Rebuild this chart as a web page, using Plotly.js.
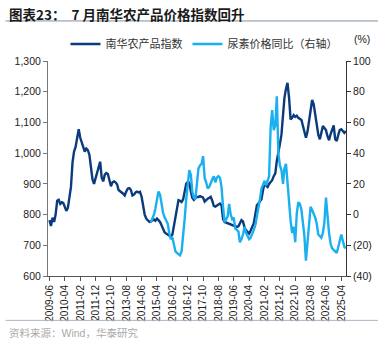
<!DOCTYPE html>
<html>
<head>
<meta charset="utf-8">
<script src="https://cdn.plot.ly/plotly-3.0.1.min.js"></script>
<style>
html,body{margin:0;padding:0;background:#fff;}
#chart{width:383px;height:348px;}
</style>
</head>
<body>
<div id="chart"></div>
<script>
// Monthly data, 2009-06 .. 2025-07
const startYear = 2009, startMonth = 6;
const nanhuaIndex = [
782,763,790,776,800,845,848,835,840,838,825,812,822,855,890,970,1005,1020,1050,1078,
1050,1035,1015,1005,1015,1010,995,950,915,900,918,940,960,972,920,908,930,935,932,905,
892,905,908,905,898,880,874,872,868,862,875,885,886,880,862,865,872,875,872,874,
858,825,800,787,780,776,778,782,784,780,787,782,776,765,750,742,738,735,733,728,
735,760,790,825,847,845,841,850,870,900,906,904,875,855,848,852,858,857,860,858,
855,842,848,852,855,858,845,828,826,830,832,836,830,785,776,774,771,770,767,765,
763,762,760,762,772,782,778,758,749,742,738,748,760,771,800,830,836,845,850,880,
901,895,890,900,905,912,925,934,975,1010,1030,1060,1140,1180,1210,1229,1180,1110,1115,1124,
1118,1122,1115,1110,1108,1090,1070,1050,1070,1108,1150,1173,1160,1124,1080,1060,1045,1065,1088,1082,
1075,1055,1042,1062,1075,1090,1045,1040,1060,1075,1078,1070,1066,1072
];
// Urea price YoY (%), 2014-12 .. 2025-07
const ureaStartOffset = 66;
const ureaYoY = [
-5,-3,0,4,10,15,13,7,1,-2,-4,-6,-12,-16,-15,-20,-24,-25,-26,-26.5,
-24,-15,-3,10,20,29,26,15,11,10,20,30,32,33,38,24,21,17,18,21,
23,25,21,24,25,24,18,5,-5,-3,-1,7,0,-3,-2,-9,-10,-11,-18,-16,
-13,-8,-12,-14,-16,-15,-13,-10,-7,-2,4,10,17,20,22,19,22,25,57,68,
55,58,77,40,32,29,20,30,33,20,6,-4,-12,-8,-18,1,8,7,3,-5,
-14,-30,-18,-5,5,3,1,-2,-6,-13,-14,-15,-12,-5,11,-1,-12,-19,-22,-23,
-24,-25,-21,-17,-13,-17,-21,-22
];
const tickLabels = ['2009-06','2010-04','2011-02','2011-12','2012-10','2013-08','2014-06','2015-04',
'2016-02','2016-12','2017-10','2018-08','2019-06','2020-04','2021-02','2021-12','2022-10','2023-08',
'2024-06','2025-04'];
const leftTicks = [600,700,800,900,1000,1100,1200,1300];
const rightTicks = [-40,-20,0,20,40,60,80,100];
const rightTickText = ['(40)','(20)','0','20','40','60','80','100'];
const seriesNames = ['南华农产品指数','尿素价格同比（右轴）'];

function monthDate(offset){
  const t = (startYear*12 + (startMonth-1)) + offset;
  const y = Math.floor(t/12), m = t%12 + 1;
  return y + '-' + String(m).padStart(2,'0') + '-01';
}
const dates = nanhuaIndex.map((_,i)=>monthDate(i));
const ureaDates = ureaYoY.map((_,i)=>monthDate(i+ureaStartOffset));

const DARK = '#0b3a7e', LIGHT = '#1ab0ef';
const numFont = 'Liberation Sans, Arial, sans-serif';
const cjkFont = 'Liberation Sans, Noto Sans CJK SC, sans-serif';

const traces = [
  {x:dates, y:nanhuaIndex, name:seriesNames[0], type:'scatter', mode:'lines',
   line:{color:DARK, width:2.4}, yaxis:'y'},
  {x:ureaDates, y:ureaYoY, name:seriesNames[1], type:'scatter', mode:'lines',
   line:{color:LIGHT, width:2.4}, yaxis:'y2'}
];

const L=47.5, R=346, T=61, B=275.7;
const pw = R-L, ph = B-T;
const px = X => (X-L)/pw;
const py = Y => (B-Y)/ph;

const layout = {
  width:383, height:348,
  margin:{l:L, r:383-R, t:T, b:348-B, pad:0},
  paper_bgcolor:'#fff', plot_bgcolor:'#fff',
  showlegend:true,
  legend:{orientation:'h', x:px(65), y:py(44), xanchor:'left', yanchor:'middle',
    font:{family:cjkFont, size:11, color:'#333'}, bgcolor:'rgba(0,0,0,0)',
    itemwidth:30, tracegroupgap:0},
  xaxis:{type:'date', range:['2009-05-03','2025-07-03'],
    tickvals:tickLabels.map(s=>s+'-01'), ticktext:tickLabels, tickangle:-90,
    ticks:'outside', ticklen:4, tickcolor:'#555', showline:true, linecolor:'#555', linewidth:1,
    showgrid:false, zeroline:false, tickfont:{family:numFont, size:10, color:'#222'}},
  yaxis:{range:[600,1300], tickvals:leftTicks, tickformat:',d', ticks:'outside', ticklen:4,
    tickcolor:'#777', showline:true, linecolor:'#777', linewidth:1, showgrid:false, zeroline:false,
    tickfont:{family:numFont, size:10.5, color:'#222'}},
  yaxis2:{overlaying:'y', side:'right', range:[-40,100], tickvals:rightTicks, ticktext:rightTickText,
    ticks:'outside', ticklen:4, tickcolor:'#333', showline:true, linecolor:'#333', linewidth:1,
    showgrid:false, zeroline:false, tickfont:{family:numFont, size:10.5, color:'#222'}},
  shapes:[
    {type:'line', xref:'paper', yref:'paper', x0:px(5), x1:px(378), y0:py(21), y1:py(21),
     line:{color:'#7f8fa6', width:1}},
    {type:'line', xref:'paper', yref:'paper', x0:px(5), x1:px(378), y0:py(320), y1:py(320),
     line:{color:'#aab4c2', width:1}}
  ],
  annotations:[
    {xref:'paper', yref:'paper', x:px(6), y:py(14), xanchor:'left', yanchor:'middle', showarrow:false,
     text:'<b>图表23：  7 月南华农产品价格指数回升</b>',
     font:{family:'Noto Sans CJK SC, sans-serif', size:13.5, color:'#1a1a1a'}},
    {xref:'paper', yref:'paper', x:px(372), y:py(39), xanchor:'right', yanchor:'middle', showarrow:false,
     text:'(%)', font:{family:numFont, size:10.5, color:'#222'}},
    {xref:'paper', yref:'paper', x:px(6), y:py(333), xanchor:'left', yanchor:'middle', showarrow:false,
     text:'资料来源：Wind，华泰研究', font:{family:cjkFont, size:10.5, color:'#aaa'}}
  ]
};

Plotly.newPlot('chart', traces, layout, {displayModeBar:false, staticPlot:true});
</script>
</body>
</html>
